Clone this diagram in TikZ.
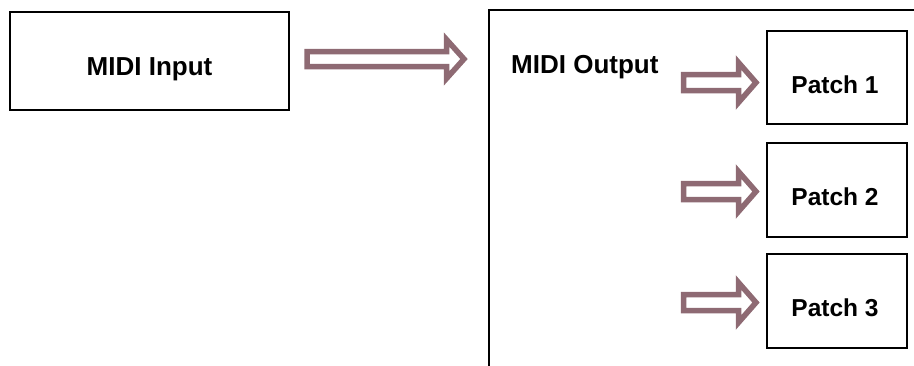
\documentclass[tikz,border=0pt]{standalone}
\usepackage{fontspec}
\setmainfont{Liberation Sans}
\definecolor{arrowmauve}{RGB}{142,106,115}
\begin{document}
\begin{tikzpicture}[x=1pt,y=-1pt,
  box/.style={draw=black,line width=2pt,fill=white,inner sep=0pt},
  lbl/.style={font=\bfseries\fontsize{26}{30}\selectfont,anchor=base,inner sep=0pt},
  plbl/.style={font=\bfseries\fontsize{24.5}{29}\selectfont,anchor=base,inner sep=0pt},
  hollow/.style={draw=arrowmauve,line width=5.5pt,fill=white,line join=miter,miter limit=10}
]
\useasboundingbox (0,0) rectangle (914,365);

% block arrow: #1 = left x, #2 = centre y, #3 = half shaft, #4 = head base x, #5 = half head, #6 = tip x
\newcommand\blockarrow[6]{%
  \draw[hollow] (#1,#2-#3) -- (#4,#2-#3) -- (#4,#2-#5) -- (#6,#2) -- (#4,#2+#5)
    -- (#4,#2+#3) -- (#1,#2+#3) -- cycle;}

% input box
\node[box,minimum width=279pt,minimum height=98pt] (inbox) at (149.5,61) {};
\node[lbl] (inlbl) at (149.5,75) {MIDI Input};

% output frame (open to the right and bottom)
\coordinate (outtl) at (489,10);
\coordinate (outbl) at (489,370);
\coordinate (outtr) at (920,10);
\draw[line width=2.5pt] (outbl) -- (outtl) -- (outtr);
\node[lbl,anchor=base west] (outlbl) at (511,73) {MIDI Output};

% main arrow
\blockarrow{307}{59}{7.5}{446.5}{19.5}{464}

% patch boxes
\node[box,minimum width=140pt,minimum height=93pt] (p1) at (837,77.5) {};
\node[box,minimum width=140pt,minimum height=94pt] (p2) at (837,190) {};
\node[box,minimum width=140pt,minimum height=94pt] (p3) at (837,301) {};
\node[plbl] (p1lbl) at (835,93.5) {Patch 1};
\node[plbl] (p2lbl) at (835,205) {Patch 2};
\node[plbl] (p3lbl) at (835,316.5) {Patch 3};

% patch arrows
\blockarrow{683.5}{82.5}{8}{738.5}{20}{756}
\blockarrow{683.5}{191.5}{8}{738.5}{20}{756}
\blockarrow{683.5}{302.5}{8}{738.5}{20}{756}
\end{tikzpicture}
\end{document}
